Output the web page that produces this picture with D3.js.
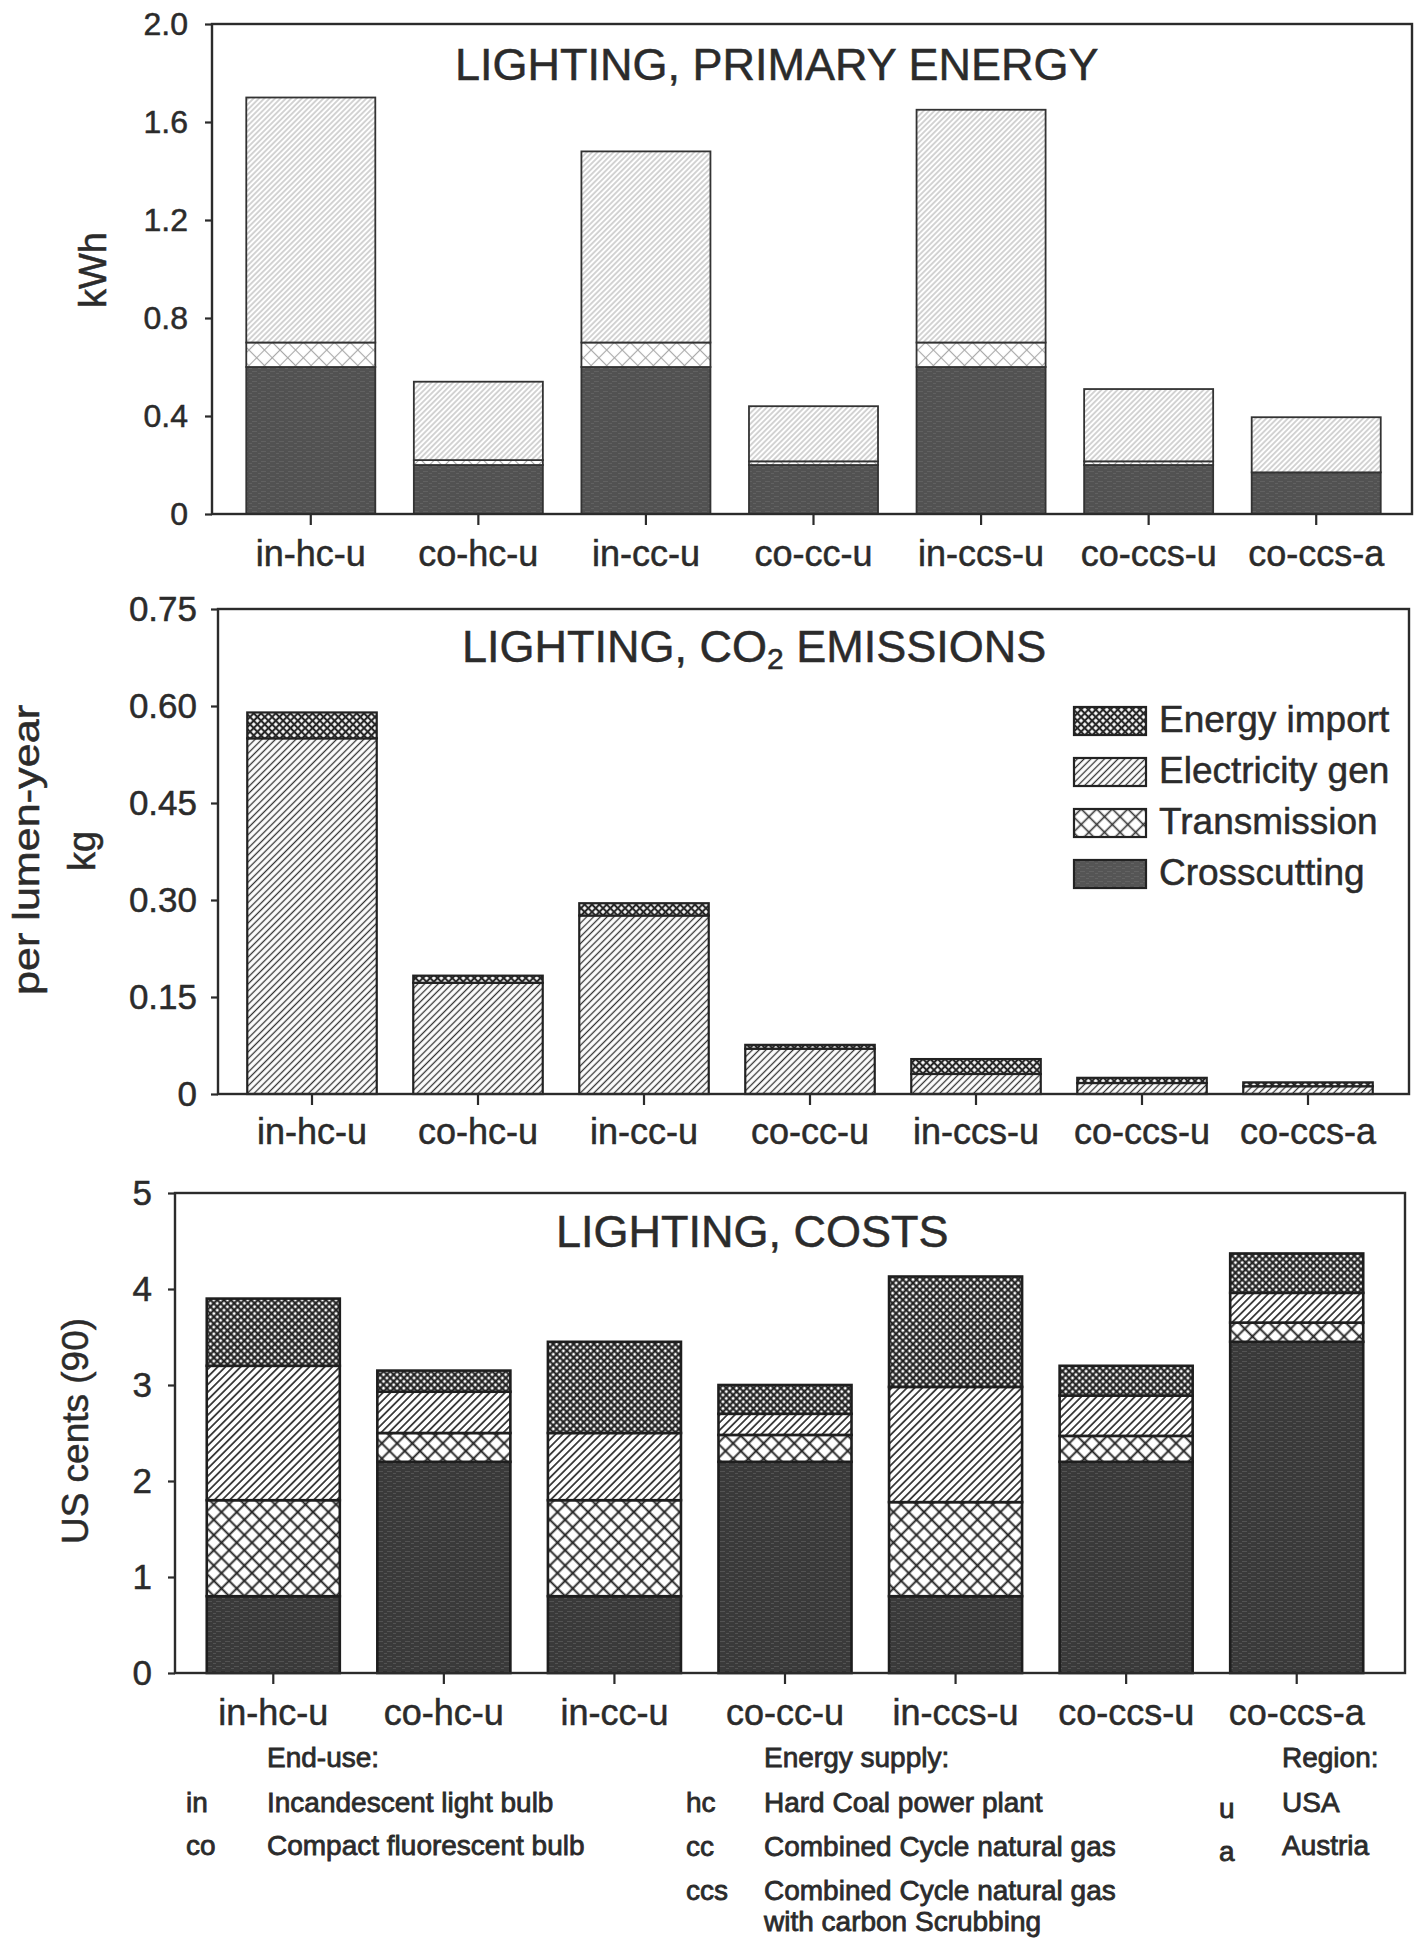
<!DOCTYPE html>
<html><head><meta charset="utf-8">
<script src="https://cdn.jsdelivr.net/npm/d3@7"></script>
<style>
body{margin:0;background:#fff;}
text{font-family:"Liberation Sans",Arial,Helvetica,sans-serif;fill:#2b2b2b;stroke:#2b2b2b;stroke-width:0.5px;}
.foot text{stroke-width:0.8px;}
</style></head><body>
<svg id="chart" width="1421" height="1940" xmlns="http://www.w3.org/2000/svg"></svg>
<script>
// ---------------- DATA ----------------
const categories = ["in-hc-u","co-hc-u","in-cc-u","co-cc-u","in-ccs-u","co-ccs-u","co-ccs-a"];
const seriesKeys = ["Crosscutting","Transmission","Electricity gen","Energy import"];
const legendOrder = ["Energy import","Electricity gen","Transmission","Crosscutting"];

// Lighting, primary energy (kWh per lumen-year)
const energyCrosscutting = [0.60, 0.20, 0.60, 0.20, 0.60, 0.20, 0.17];
const energyTransmission = [0.10, 0.02, 0.10, 0.015, 0.10, 0.015, 0.0];
const energyElectricity  = [1.00, 0.32, 0.78, 0.225, 0.95, 0.295, 0.225];
const energyImport       = [0, 0, 0, 0, 0, 0, 0];

// Lighting, CO2 emissions (kg per lumen-year)
const co2Crosscutting = [0, 0, 0, 0, 0, 0, 0];
const co2Transmission = [0, 0, 0, 0, 0, 0, 0];
const co2Electricity  = [0.550, 0.172, 0.276, 0.070, 0.031, 0.017, 0.012];
const co2Import       = [0.040, 0.011, 0.019, 0.006, 0.023, 0.008, 0.006];

// Lighting, costs (US cents (90))
const costCrosscutting = [0.80, 2.20, 0.80, 2.20, 0.80, 2.20, 3.45];
const costTransmission = [1.00, 0.30, 1.00, 0.28, 0.98, 0.27, 0.20];
const costElectricity  = [1.40, 0.43, 0.70, 0.22, 1.20, 0.42, 0.31];
const costImport       = [0.70, 0.22, 0.95, 0.30, 1.15, 0.31, 0.41];

const energyTicks = [0, 0.4, 0.8, 1.2, 1.6, 2.0];
const energyTickLabels = ["0", "0.4", "0.8", "1.2", "1.6", "2.0"];
const co2Ticks = [0, 0.15, 0.30, 0.45, 0.60, 0.75];
const co2TickLabels = ["0", "0.15", "0.30", "0.45", "0.60", "0.75"];
const costTicks = [0, 1, 2, 3, 4, 5];
const costTickLabels = ["0", "1", "2", "3", "4", "5"];

const footEndUseCodes = ["in", "co"];
const footEndUse = ["Incandescent light bulb", "Compact fluorescent bulb"];
const footSupplyCodes = ["hc", "cc", "ccs"];
const footSupply = ["Hard Coal power plant", "Combined Cycle natural gas", "Combined Cycle natural gas|with carbon Scrubbing"];
const footRegionCodes = ["u", "a"];
const footRegion = ["USA", "Austria"];

// ---------------- DRAW ----------------
const svg = d3.select("#chart");
const defs = svg.append("defs");
const INK = "#2b2b2b";

function gridPattern(id, s, angle, stroke, width, both, bg) {
  const p = defs.append("pattern").attr("id", id)
    .attr("patternUnits", "userSpaceOnUse")
    .attr("width", s).attr("height", s)
    .attr("patternTransform", `rotate(${angle})`);
  p.append("rect").attr("width", s).attr("height", s).attr("fill", bg || "#fff");
  p.append("path").attr("d", `M${s/2},-1V${s+1}`).attr("stroke", stroke).attr("stroke-width", width);
  if (both) p.append("path").attr("d", `M-1,${s/2}H${s+1}`).attr("stroke", stroke).attr("stroke-width", width);
}
function solidPattern(id, color, streak) {
  const p = defs.append("pattern").attr("id", id)
    .attr("patternUnits", "userSpaceOnUse").attr("width", 9).attr("height", 5);
  p.append("rect").attr("width", 9).attr("height", 5).attr("fill", color);
  p.append("path").attr("d", "M0,1.5H5M6,3.5H9").attr("stroke", streak).attr("stroke-width", 0.8).attr("opacity", 0.5);
}
const themes = {
  top: {cross: "#525252", elec: ["#a0a0a0", 3.8, 0.9], trans: ["#a8a8a8", 11, 1.1], imp: ["#555", 5, 1.8], outline: "#333", ow: 1.8},
  mid: {cross: "#555555", elec: ["#333", 4.8, 1.3], trans: ["#333", 11, 1.6], imp: ["#262626", 5.2, 2.1], outline: "#222", ow: 2.2},
  bot: {cross: "#3a3a3a", elec: ["#222", 5.4, 1.6], trans: ["#222", 10.8, 1.9], imp: ["#1e1e1e", 4.8, 2.1], outline: "#1e1e1e", ow: 2.6}
};
Object.entries(themes).forEach(([k, t]) => {
  solidPattern(`p-${k}-Crosscutting`, t.cross, "#777");
  gridPattern(`p-${k}-Transmission`, t.trans[1], 45, t.trans[0], t.trans[2], true);
  gridPattern(`p-${k}-Electricity_gen`, t.elec[1], 45, t.elec[0], t.elec[2], false);
  gridPattern(`p-${k}-Energy_import`, t.imp[1], 45, t.imp[0], t.imp[2], true);
});
const patId = (theme, key) => `url(#p-${theme}-${key.replace(/ /g, "_")})`;

function drawPanel(cfg) {
  const g = svg.append("g");
  const rows = categories.map((c, i) => ({
    cat: c,
    "Crosscutting": cfg.cross[i],
    "Transmission": cfg.trans[i],
    "Electricity gen": cfg.elec[i],
    "Energy import": cfg.imp[i]
  }));
  const x = d3.scaleBand().domain(categories).range(cfg.band)
    .paddingInner(cfg.pad).paddingOuter(cfg.pad / 2);
  const y = d3.scaleLinear().domain([0, d3.max(cfg.ticks)]).range([cfg.frame.bottom, cfg.frame.top]);
  const stacked = d3.stack().keys(seriesKeys)(rows);
  const t = themes[cfg.theme];

  stacked.forEach(layer => {
    g.append("g").selectAll("rect")
      .data(layer.filter(d => d[1] - d[0] > 0))
      .join("rect")
      .attr("x", d => x(d.data.cat))
      .attr("width", x.bandwidth())
      .attr("y", d => y(d[1]))
      .attr("height", d => y(d[0]) - y(d[1]))
      .attr("fill", patId(cfg.theme, layer.key))
      .attr("stroke", t.outline)
      .attr("stroke-width", t.ow);
  });

  const f = cfg.frame;
  g.append("rect").attr("x", f.left).attr("y", f.top)
    .attr("width", f.right - f.left).attr("height", f.bottom - f.top)
    .attr("fill", "none").attr("stroke", INK).attr("stroke-width", 2.4);

  const ya = g.append("g").attr("transform", `translate(${f.left},0)`)
    .call(d3.axisLeft(y).tickValues(cfg.ticks)
      .tickFormat((d, i) => cfg.tickLabels[i])
      .tickSize(7).tickPadding(cfg.yPad));
  ya.select(".domain").remove();
  ya.selectAll(".tick line").attr("stroke", INK).attr("stroke-width", 2.2);
  ya.selectAll(".tick text").attr("font-size", cfg.yFont).attr("fill", INK)
    .attr("font-family", "'Liberation Sans',Arial,sans-serif");

  const xa = g.append("g").attr("transform", `translate(0,${f.bottom})`)
    .call(d3.axisBottom(x).tickSize(11).tickPadding(cfg.xPad));
  xa.select(".domain").remove();
  xa.selectAll(".tick line").attr("stroke", INK).attr("stroke-width", 2.2);
  xa.selectAll(".tick text").attr("font-size", 36).attr("fill", INK)
    .attr("font-family", "'Liberation Sans',Arial,sans-serif");

  const tt = g.append("text").attr("x", cfg.titleX).attr("y", cfg.titleY)
    .attr("font-size", 45);
  cfg.title.forEach(part => {
    const ts = tt.append("tspan").text(part.t);
    if (part.sub) ts.attr("font-size", 30).attr("dy", 7);
    if (part.after) ts.attr("dy", -7);
  });

  cfg.yLabel.forEach(l => {
    const tx = g.append("text")
      .attr("transform", `translate(${l.x},${l.y}) rotate(-90)`)
      .attr("text-anchor", "middle").attr("font-size", l.size).text(l.t);
    if (l.len) tx.attr("textLength", l.len).attr("lengthAdjust", "spacingAndGlyphs");
  });
  return {x, y, g};
}

drawPanel({
  theme: "top",
  cross: energyCrosscutting, trans: energyTransmission, elec: energyElectricity, imp: energyImport,
  ticks: energyTicks, tickLabels: energyTickLabels,
  frame: {left: 212, top: 24, right: 1412, bottom: 514},
  band: [227, 1400], pad: 0.23, yPad: 17, yFont: 32, xPad: 15,
  title: [{t: "LIGHTING, PRIMARY ENERGY"}], titleX: 455, titleY: 80,
  yLabel: [{t: "kWh", x: 106, y: 270, size: 38}]
});

drawPanel({
  theme: "mid",
  cross: co2Crosscutting, trans: co2Transmission, elec: co2Electricity, imp: co2Import,
  ticks: co2Ticks, tickLabels: co2TickLabels,
  frame: {left: 218, top: 609, right: 1409, bottom: 1094},
  band: [229, 1391], pad: 0.22, yPad: 14, yFont: 35, xPad: 13,
  title: [{t: "LIGHTING, CO"}, {t: "2", sub: true}, {t: " EMISSIONS", after: true}], titleX: 462, titleY: 662,
  yLabel: [{t: "per lumen-year", x: 39, y: 850, size: 36, len: 290},
           {t: "kg", x: 95, y: 851, size: 38}]
});

drawPanel({
  theme: "bot",
  cross: costCrosscutting, trans: costTransmission, elec: costElectricity, imp: costImport,
  ticks: costTicks, tickLabels: costTickLabels,
  frame: {left: 175, top: 1193, right: 1405, bottom: 1673},
  band: [188, 1382], pad: 0.22, yPad: 16, yFont: 35, xPad: 15,
  title: [{t: "LIGHTING, COSTS"}], titleX: 556, titleY: 1247,
  yLabel: [{t: "US cents (90)", x: 88, y: 1431, size: 37}]
});

// legend (in CO2 panel)
const leg = svg.append("g");
legendOrder.forEach((k, i) => {
  const cy = 721 + i * 51;
  leg.append("rect").attr("x", 1074).attr("y", cy - 14).attr("width", 72).attr("height", 28)
    .attr("fill", patId("mid", k)).attr("stroke", "#222").attr("stroke-width", 2.2);
  leg.append("text").attr("x", 1159).attr("y", cy + 11).attr("font-size", 37).text(k);
});

// footnote
const fn = svg.append("g").attr("class", "foot");
const FS = 28;
fn.append("text").attr("x", 267).attr("y", 1767).attr("font-size", FS).text("End-use:");
fn.append("text").attr("x", 764).attr("y", 1767).attr("font-size", FS).text("Energy supply:");
fn.append("text").attr("x", 1282).attr("y", 1767).attr("font-size", FS).text("Region:");
footEndUseCodes.forEach((c, i) => {
  const yy = 1812 + i * 43;
  fn.append("text").attr("x", 186).attr("y", yy).attr("font-size", FS).text(c);
  fn.append("text").attr("x", 267).attr("y", yy).attr("font-size", FS).text(footEndUse[i]);
});
footSupplyCodes.forEach((c, i) => {
  const yy = 1812 + i * 44;
  fn.append("text").attr("x", 686).attr("y", yy).attr("font-size", FS).text(c);
  footSupply[i].split("|").forEach((line, j) => {
    fn.append("text").attr("x", 764).attr("y", yy + j * 31).attr("font-size", FS).text(line);
  });
});
footRegionCodes.forEach((c, i) => {
  const yy = 1812 + i * 43;
  fn.append("text").attr("x", 1219).attr("y", yy + 6).attr("font-size", FS).text(c);
  fn.append("text").attr("x", 1282).attr("y", yy).attr("font-size", FS).text(footRegion[i]);
});
</script>
</body></html>
